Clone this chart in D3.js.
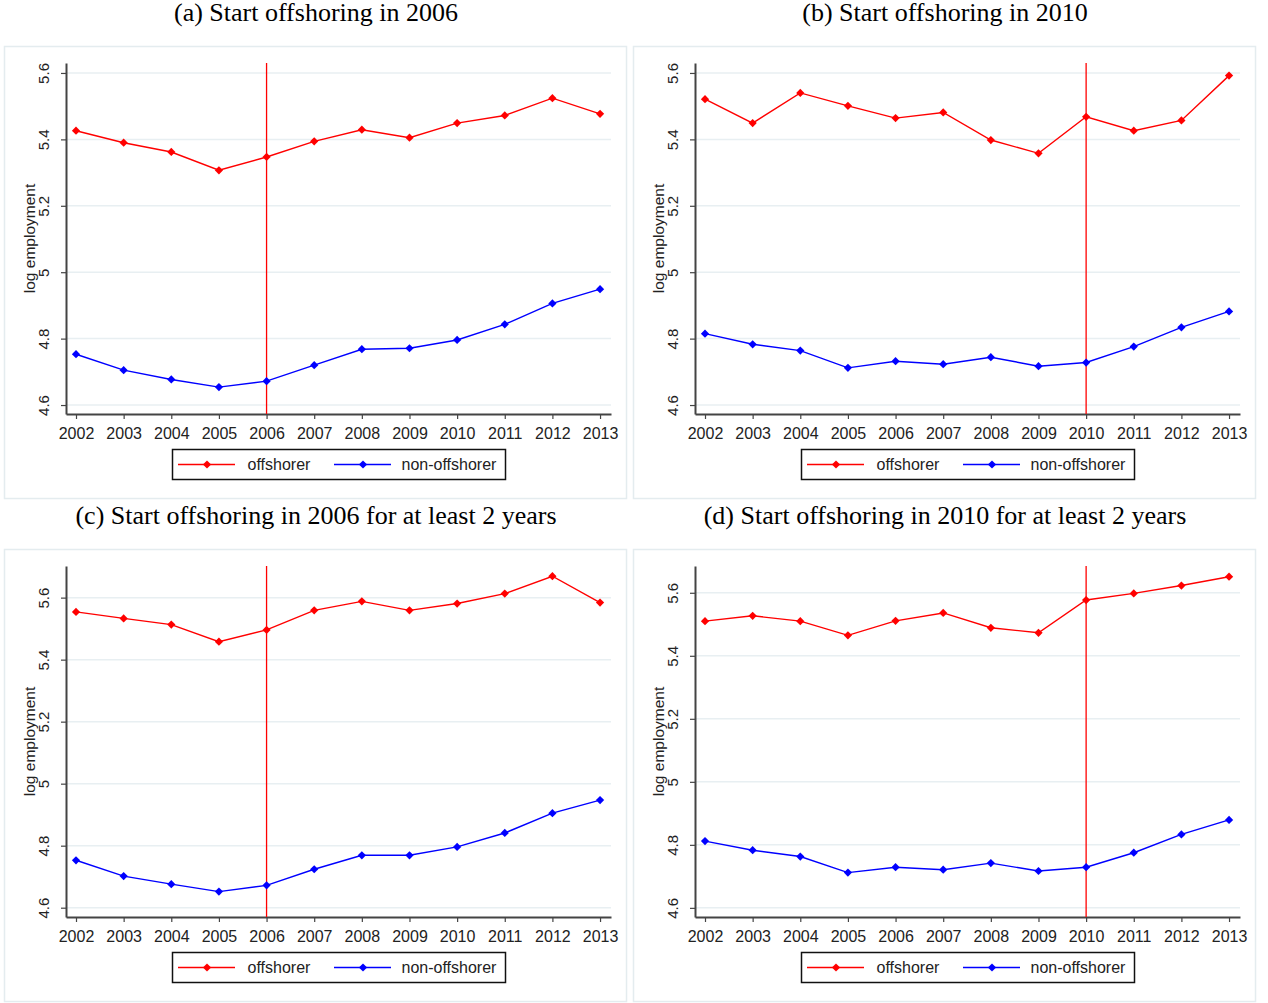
<!DOCTYPE html>
<html>
<head>
  <meta charset="utf-8">
  <title>log employment panels</title>
  <style type="text/css">
    body { margin: 0; background: #fff; }
    .title { font-family: "Liberation Serif", "Times New Roman", serif; font-size: 26px; fill: #000; }
    .tick text { font-family: "Liberation Sans", Arial, sans-serif; fill: #222; }
    .ylab { font-family: "Liberation Sans", Arial, sans-serif; font-size: 15.5px; fill: #222; }
    .leg { font-family: "Liberation Sans", Arial, sans-serif; font-size: 16px; fill: #222; }
  </style>
</head>
<body>
<script src="https://cdnjs.cloudflare.com/ajax/libs/d3/7.8.5/d3.min.js"></script>
<script>
// data
var years = [2002, 2003, 2004, 2005, 2006, 2007, 2008, 2009, 2010, 2011, 2012, 2013];
var yTicks = [4.6, 4.8, 5, 5.2, 5.4, 5.6];
var seriesNames = ['offshorer', 'non-offshorer'];

var titles = [
  '(a) Start offshoring in 2006',
  '(b) Start offshoring in 2010',
  '(c) Start offshoring in 2006 for at least 2 years',
  '(d) Start offshoring in 2010 for at least 2 years'
];
var startYears = [2006, 2010, 2006, 2010];

var offA = [5.426, 5.390, 5.362, 5.307, 5.347, 5.394, 5.429, 5.405, 5.449, 5.472, 5.524, 5.477];
var nonA = [4.753, 4.705, 4.677, 4.654, 4.672, 4.720, 4.768, 4.771, 4.796, 4.843, 4.906, 4.949];

var offB = [5.521, 5.449, 5.540, 5.501, 5.464, 5.481, 5.398, 5.358, 5.468, 5.426, 5.457, 5.592];
var nonB = [4.815, 4.783, 4.764, 4.712, 4.732, 4.723, 4.744, 4.717, 4.728, 4.776, 4.834, 4.882];

var offC = [5.554, 5.533, 5.513, 5.458, 5.496, 5.559, 5.588, 5.559, 5.581, 5.613, 5.669, 5.584];
var nonC = [4.753, 4.702, 4.676, 4.652, 4.672, 4.724, 4.769, 4.769, 4.796, 4.841, 4.905, 4.947];

var offD = [5.510, 5.527, 5.510, 5.465, 5.511, 5.536, 5.489, 5.473, 5.577, 5.598, 5.623, 5.651];
var nonD = [4.812, 4.783, 4.763, 4.712, 4.729, 4.721, 4.742, 4.717, 4.729, 4.775, 4.833, 4.879];

// y range shown on each panel (axis ends)
var yDomains = [[4.573, 5.63], [4.573, 5.63], [4.57, 5.702], [4.571, 5.685]];

var offs = [offA, offB, offC, offD];
var nons = [nonA, nonB, nonC, nonD];
var colors = ['#ff0000', '#0000ff'];

var W = 1268, H = 1003;
var svg = d3.select('body').append('svg')
  .attr('width', W)
  .attr('height', H);

// panel placement
var panelX = [0, 629, 0, 629];
var panelY = [0, 0, 503, 503];

var diamond = d3.symbol().type(d3.symbolSquare).size(34);

// plot area inside each panel (top/left are globals in browsers, so other names)
var pLeft = 66, pRight = 611, pTop = 63, pBottom = 414;

for (var p = 0; p < 4; p++) {
  var g = svg.append('g').attr('transform', 'translate(' + panelX[p] + ',' + panelY[p] + ')');

  // title
  g.append('text').attr('class', 'title')
    .attr('x', 316).attr('y', 21)
    .attr('text-anchor', 'middle')
    .text(titles[p]);

  // graph region frame
  g.append('rect')
    .attr('x', 4.5).attr('y', 46.5)
    .attr('width', 622).attr('height', 452)
    .attr('fill', 'none')
    .attr('stroke', '#e4ecef')
    .attr('stroke-width', 1.5);

  var x = d3.scaleLinear()
    .domain([2001.79, 2013.23])
    .range([pLeft, pRight]);
  var y = d3.scaleLinear()
    .domain(yDomains[p])
    .range([pBottom, pTop]);

  // gridlines
  g.append('g').selectAll('line')
    .data(yTicks).enter().append('line')
    .attr('x1', pLeft).attr('x2', pRight)
    .attr('y1', function(d){ return y(d); })
    .attr('y2', function(d){ return y(d); })
    .attr('stroke', '#e8eff2')
    .attr('stroke-width', 1.5);

  // y axis
  var yAxis = g.append('g')
    .attr('transform', 'translate(' + pLeft + ',0)')
    .call(d3.axisLeft(y).tickValues(yTicks).tickSize(5).tickSizeOuter(0)
      .tickFormat(function(d){ return String(d); }));
  yAxis.select('.domain').attr('stroke', '#444').attr('stroke-width', 2);
  yAxis.selectAll('.tick line').attr('stroke', '#444').attr('stroke-width', 1.2);
  yAxis.selectAll('.tick text')
    .attr('font-size', 15)
    .attr('x', 0).attr('dy', 0)
    .attr('text-anchor', 'middle')
    .attr('transform', 'translate(-17,0) rotate(-90)');

  // x axis
  var xAxis = g.append('g')
    .attr('transform', 'translate(0,' + pBottom + ')')
    .call(d3.axisBottom(x).tickValues(years).tickSize(5).tickSizeOuter(0)
      .tickFormat(d3.format('d')));
  xAxis.select('.domain').attr('stroke', '#444').attr('stroke-width', 2);
  xAxis.selectAll('.tick line').attr('stroke', '#444').attr('stroke-width', 1.2);
  xAxis.selectAll('.tick text').attr('font-size', 16).attr('dy', '0.71em').attr('y', 14);

  // axis title
  g.append('text').attr('class', 'ylab')
    .attr('transform', 'translate(35,' + ((pTop + pBottom) / 2) + ') rotate(-90)')
    .attr('text-anchor', 'middle')
    .text('log employment');

  // treatment year line
  g.append('line')
    .attr('x1', x(startYears[p])).attr('x2', x(startYears[p]))
    .attr('y1', pTop).attr('y2', pBottom)
    .attr('stroke', '#ff0000')
    .attr('stroke-width', 1.3);

  // series
  var series = [offs[p], nons[p]];
  series.forEach(function(vals, i) {
    var pts = years.map(function(yr, k){ return [yr, vals[k]]; });
    var line = d3.line()
      .x(function(d){ return x(d[0]); })
      .y(function(d){ return y(d[1]); });
    g.append('path')
      .datum(pts)
      .attr('d', line)
      .attr('fill', 'none')
      .attr('stroke', colors[i])
      .attr('stroke-width', 1.4);
    g.append('g').selectAll('path')
      .data(pts).enter().append('path')
      .attr('d', diamond)
      .attr('fill', colors[i])
      .attr('transform', function(d){ return 'translate(' + x(d[0]) + ',' + y(d[1]) + ') rotate(45)'; });
  });

  // legend
  var legW = 333, legH = 30;
  var lx = (pLeft + pRight) / 2 - legW / 2, ly = pBottom + 35;
  var leg = g.append('g').attr('transform', 'translate(' + lx + ',' + ly + ')');
  leg.append('rect')
    .attr('x', 0.5).attr('y', 0.5)
    .attr('width', legW).attr('height', legH)
    .attr('fill', '#fff')
    .attr('stroke', '#111')
    .attr('stroke-width', 1.5);
  var itemX = [6, 162];
  var textX = [75.5, 229.5];
  seriesNames.forEach(function(name, i) {
    leg.append('line')
      .attr('x1', itemX[i]).attr('x2', itemX[i] + 57)
      .attr('y1', legH / 2 + 0.5).attr('y2', legH / 2 + 0.5)
      .attr('stroke', colors[i]).attr('stroke-width', 1.3);
    leg.append('path')
      .attr('d', diamond)
      .attr('fill', colors[i])
      .attr('transform', 'translate(' + (itemX[i] + 29) + ',' + (legH / 2 + 0.5) + ') rotate(45)');
    leg.append('text').attr('class', 'leg')
      .attr('x', textX[i]).attr('y', legH / 2 + 6)
      .text(name);
  });
}
</script>
</body>
</html>
